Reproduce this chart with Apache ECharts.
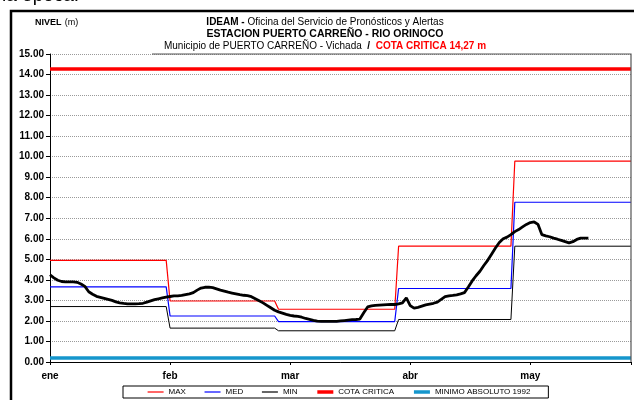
<!DOCTYPE html>
<html>
<head>
<meta charset="utf-8">
<script src="https://cdn.jsdelivr.net/npm/echarts@6.0.0/dist/echarts.min.js"></script>
<style>
  html, body { margin: 0; padding: 0; background: #fff; }
  #chart { width: 634px; height: 400px; }
</style>
</head>
<body>
<div id="chart"></div>
<script>
// Month labels and the day (from 1 January) on which each month starts
const monthLabels = ['ene', 'feb', 'mar', 'abr', 'may'];
const monthStartDay = [0, 31, 59, 90, 120];
const lastDay = 150;

// Monthly historical levels (m)
const maxByMonth = [4.95, 2.97, 2.57, 5.64, 9.78];
const medByMonth = [3.66, 2.24, 1.97, 3.58, 7.78];
const minByMonth = [2.70, 1.65, 1.52, 2.07, 5.64];

// Reference levels (m)
const cotaCritica = 14.27;
const minimoAbsoluto1992 = 0.20;

// Daily observed level (m), day 0 = 1 January
const nivelDiario = [
  4.25, 4.10, 3.98, 3.92, 3.90, 3.90, 3.90, 3.88, 3.80, 3.68,
  3.42, 3.30, 3.20, 3.15, 3.10, 3.05, 3.00, 2.93, 2.88, 2.85,
  2.83, 2.83, 2.83, 2.84, 2.86, 2.92, 2.98, 3.04, 3.08, 3.12,
  3.16, 3.19, 3.22, 3.22, 3.24, 3.28, 3.32, 3.38, 3.50, 3.60,
  3.64, 3.65, 3.62, 3.56, 3.50, 3.45, 3.40, 3.36, 3.32, 3.28,
  3.25, 3.23, 3.18, 3.08, 2.98, 2.88, 2.76, 2.64, 2.52, 2.44,
  2.38, 2.32, 2.27, 2.24, 2.22, 2.18, 2.12, 2.08, 2.03, 1.99,
  1.98, 1.98, 1.98, 1.98, 1.98, 2.00, 2.02, 2.04, 2.06, 2.07,
  2.09, 2.40, 2.68, 2.73, 2.76, 2.77, 2.78, 2.79, 2.80, 2.80,
  2.83, 2.88, 3.12, 2.75, 2.62, 2.66, 2.72, 2.78, 2.82, 2.86,
  2.92, 3.05, 3.18, 3.22, 3.24, 3.27, 3.32, 3.38, 3.65, 3.95,
  4.20, 4.42, 4.70, 4.95, 5.25, 5.55, 5.82, 6.00, 6.08, 6.20,
  6.35, 6.45, 6.58, 6.70, 6.79, 6.82, 6.70, 6.20, 6.14, 6.10,
  6.03, 5.98, 5.92, 5.86, 5.80, 5.86, 5.97, 6.03, 6.03, 6.03
];

const FONT = "'Liberation Sans', Arial, sans-serif";
const GRID = { left: 50, right: 3, top: 54, bottom: 38 };
const W = 634, H = 400;

// Monthly values held flat over each month's days
function monthlySteps(values) {
  const pts = [];
  values.forEach((v, i) => {
    const end = i + 1 < monthStartDay.length ? monthStartDay[i + 1] - 1 : lastDay;
    pts.push([monthStartDay[i], v], [end, v]);
  });
  return pts;
}
function flat(v) { return [[0, v], [lastDay, v]]; }

const chart = echarts.init(document.getElementById('chart'), null, { renderer: 'canvas' });

const lineSeries = (name, data, color, width, z) => ({
  name, type: 'line', data, symbol: 'none', z,
  lineStyle: { color, width }, itemStyle: { color },
  emphasis: { disabled: true }
});

chart.setOption({
  animation: false,
  backgroundColor: '#fff',
  title: {
    left: 320, top: 11, textAlign: 'center',
    text: '{b|IDEAM - }{n|Oficina del Servicio de Pronósticos y Alertas}\n' +
          '{b2|ESTACION PUERTO CARREÑO - RIO ORINOCO}\n' +
          '{n|Municipio de PUERTO CARREÑO - Vichada  }{b|/  }{r|COTA CRITICA 14,27 m}',
    textStyle: {
      fontFamily: FONT, fontSize: 10, fontWeight: 'normal', lineHeight: 12, color: '#000',
      rich: {
        b: { fontFamily: FONT, fontSize: 10, fontWeight: 'bold', color: '#000', lineHeight: 12 },
        b2: { fontFamily: FONT, fontSize: 10.5, fontWeight: 'bold', color: '#000', lineHeight: 12 },
        n: { fontFamily: FONT, fontSize: 10, fontWeight: 'normal', color: '#000', lineHeight: 12 },
        r: { fontFamily: FONT, fontSize: 10, fontWeight: 'bold', color: '#ff0000', lineHeight: 12 }
      }
    }
  },
  legend: {
    data: [
      { name: 'MAX', lineStyle: { width: 1.2 } },
      { name: 'MED', lineStyle: { width: 1.2 } },
      { name: 'MIN', lineStyle: { width: 1.2 } },
      { name: 'COTA CRITICA', lineStyle: { width: 3.5 } },
      { name: 'MINIMO ABSOLUTO 1992', lineStyle: { width: 3.5 } }
    ],
    left: 123, top: 386,
    itemGap: 18, itemWidth: 16, itemHeight: 8,
    padding: [2, 18, 2, 24],
    borderColor: '#000', borderWidth: 1,
    itemStyle: { opacity: 0 },
    textStyle: { fontFamily: FONT, fontSize: 8, color: '#000' }
  },
  grid: { left: GRID.left, right: GRID.right, top: GRID.top, bottom: GRID.bottom, show: false },
  xAxis: {
    type: 'value', min: 0, max: lastDay, interval: 31,
    axisLine: { show: true, onZero: false, lineStyle: { color: '#000', width: 1 } },
    axisTick: { show: true, length: 3, lineStyle: { color: '#000' } },
    splitLine: { show: false },
    axisLabel: {
      fontFamily: FONT, fontSize: 10, fontWeight: 'bold', color: '#000', margin: 9,
      formatter: v => (v % 31 === 0 && monthLabels[v / 31]) ? monthLabels[v / 31] : ''
    }
  },
  yAxis: {
    type: 'value', min: 0, max: 15, interval: 1,
    axisLine: { show: true, lineStyle: { color: '#000', width: 1 } },
    axisTick: { show: true, length: 4, lineStyle: { color: '#000' } },
    splitLine: { show: true, lineStyle: { color: '#9a9a9a', type: 'dotted', width: 1 } },
    axisLabel: {
      fontFamily: FONT, fontSize: 10, fontWeight: 'bold', color: '#000', margin: 6,
      formatter: v => v.toFixed(2)
    }
  },
  series: [
    lineSeries('MINIMO ABSOLUTO 1992', flat(minimoAbsoluto1992), '#1596cc', 3.5, 2),
    lineSeries('COTA CRITICA', flat(cotaCritica), '#ff0000', 3.5, 2),
    lineSeries('MAX', monthlySteps(maxByMonth), '#ff0000', 1.2, 3),
    lineSeries('MED', monthlySteps(medByMonth), '#0000ff', 1.2, 3),
    lineSeries('MIN', monthlySteps(minByMonth), '#000000', 1, 3),
    lineSeries('NIVEL', nivelDiario.map((v, i) => [i, v]), '#000000', 2.8, 5)
  ],
  graphic: [
    // partial text line above the frame
    {
      type: 'text', left: 2, top: -14, silent: true,
      style: { text: 'la época.', font: "19px 'Liberation Sans', Arial, sans-serif", fill: '#000' }
    },
    // outer frame
    {
      type: 'rect', silent: true, z: 10,
      shape: { x: 11, y: 11, width: 700, height: 500 },
      style: { fill: 'none', stroke: '#000', lineWidth: 2.5 }
    },
    // plot area top and right border
    {
      type: 'polyline', silent: true, z: 10,
      shape: { points: [[152, GRID.top], [W - GRID.right, GRID.top], [W - GRID.right, H - GRID.bottom]] },
      style: { fill: 'none', stroke: '#555', lineWidth: 1.2 }
    },
    // axis unit label
    {
      type: 'text', left: 35, top: 17, silent: true,
      style: {
        text: '{b|NIVEL} {n|(m)}',
        rich: {
          b: { fontFamily: FONT, fontSize: 9, fontWeight: 'bold', fill: '#000' },
          n: { fontFamily: FONT, fontSize: 9, fill: '#000' }
        }
      }
    }
  ]
});
</script>
</body>
</html>
